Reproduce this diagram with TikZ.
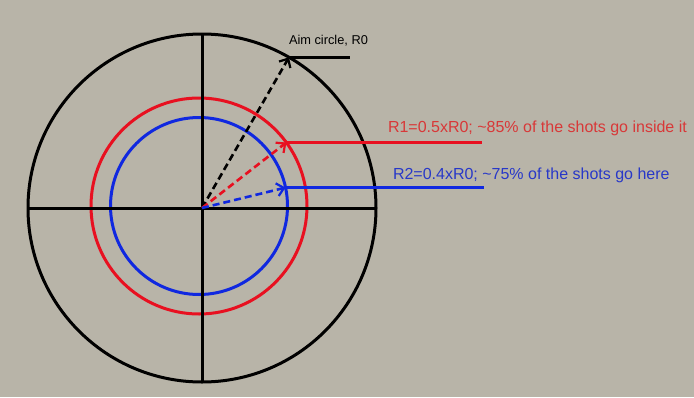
\documentclass[tikz,border=0pt]{standalone}
\usepackage{fontspec}
\setmainfont{Liberation Sans}
\usetikzlibrary{arrows.meta}

\definecolor{bgpanel}{HTML}{B8B4A8}
\definecolor{ringred}{HTML}{E81020}
\definecolor{ringblue}{HTML}{1028E0}
\definecolor{txtred}{HTML}{D83838}
\definecolor{txtblue}{HTML}{2838C8}

\begin{document}
\begin{tikzpicture}[
  x=1pt, y=-1pt,
  every node/.style={inner sep=0pt, outer sep=0pt},
  ring/.style 2 args={circle, draw=#1, line width=3pt, minimum size=#2},
  radius/.style={dashed, dash pattern=on 7pt off 4pt, line width=2.6pt,
                 -{Straight Barb[length=7pt, width=13pt, line width=2.2pt]}},
  hook/.style={line width=3pt},
  note/.style={anchor=base west, font=\fontsize{16}{19}\selectfont},
  aimnote/.style={anchor=base west, font=\fontsize{12.8}{15}\selectfont}
]
\fill[bgpanel] (0,0) rectangle (694,397);
\useasboundingbox (0,0) rectangle (694,397);

% the three circles
\coordinate (c) at (202,208);
\coordinate (cc) at (199,206);
\node[ring={black}{348pt}] (aim) at (c) {};
\node[ring={ringred}{216pt}] (r1) at (cc) {};
\node[ring={ringblue}{177pt}] (r2) at (cc) {};

% crosshair
\draw[line width=3pt] (aim.north) -- (aim.south);
\draw[line width=3pt] (aim.west) -- (aim.east);

% radii
\draw[radius, black] (c) -- (aim.60.5);
\draw[radius, ringred] (c) -- (r1.36);
\draw[radius, ringblue] (c) -- (r2.12);

% labels
\coordinate (aimend) at (350,55);
\coordinate (r1end) at (482,142);
\coordinate (r2end) at (484,187);
\draw[hook, black] (aim.60.5) -- (aim.60.5 -| aimend);
\draw[hook, ringred] (r1.36) -- (r1.36 -| r1end);
\draw[hook, ringblue] (r2.12) -- (r2.12 -| r2end);

\node[aimnote] (aimlab) at (289,44) {Aim circle, R0};
\node[note, text=txtred] (r1lab) at (388,132) {R1=0.5xR0; \textasciitilde85\% of the shots go inside it};
\node[note, text=txtblue] (r2lab) at (393,179) {R2=0.4xR0; \textasciitilde75\% of the shots go here};
\end{tikzpicture}
\end{document}
